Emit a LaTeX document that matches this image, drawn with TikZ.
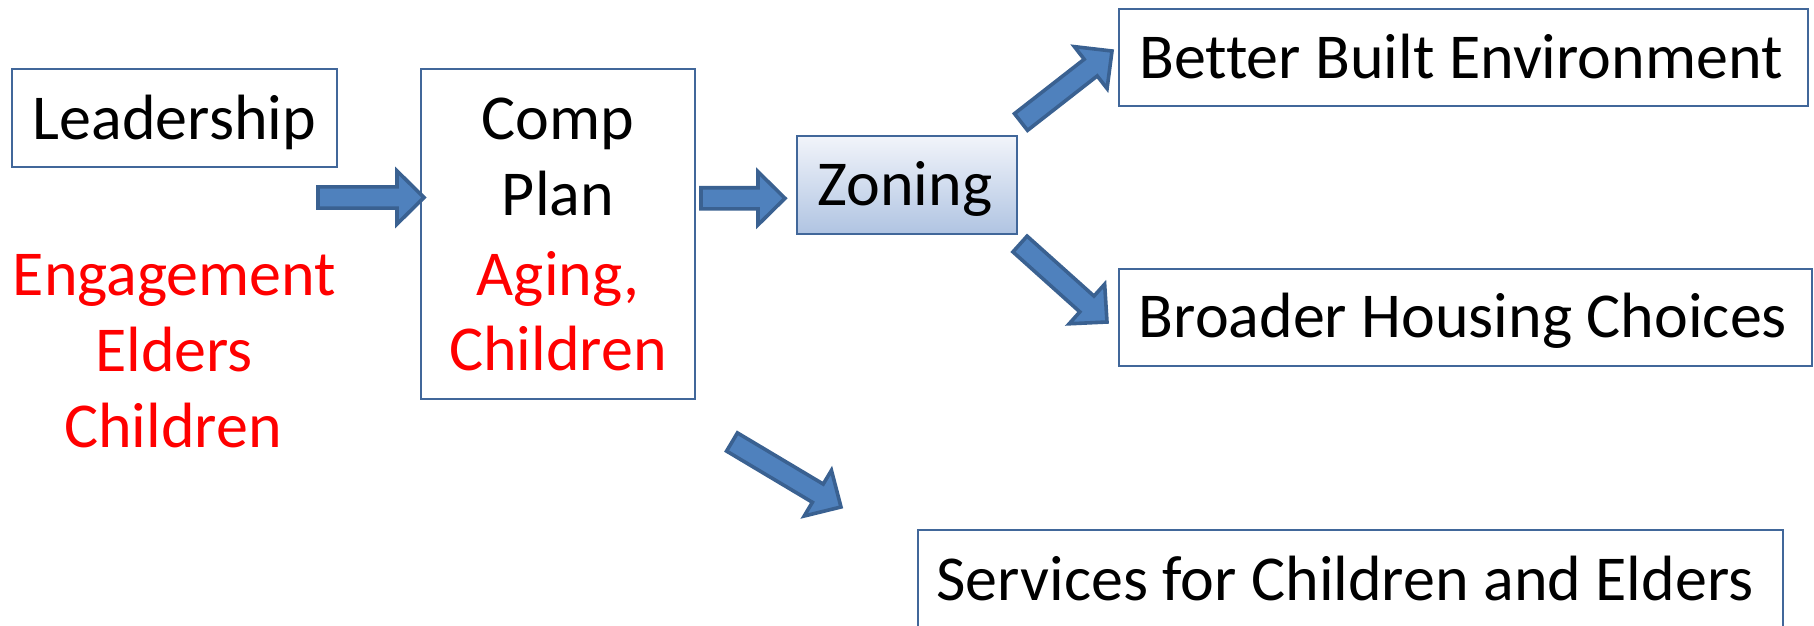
\documentclass[tikz,border=0pt]{standalone}
\usepackage{fontspec}
\setmainfont{Carlito}[Ligatures=NoCommon]
\usetikzlibrary{calc}
\definecolor{boxline}{HTML}{41679A}
\definecolor{arrfill}{HTML}{4F81BD}
\definecolor{arrline}{HTML}{3A6191}
\definecolor{ztop}{HTML}{F1F4FA}
\definecolor{zbot}{HTML}{B0C4E2}
\tikzset{
  box/.style={draw=boxline, line width=1pt, inner sep=0pt},
  txt/.style={anchor=base, inner sep=0pt, font=\fontsize{32}{38}\selectfont},
  redtxt/.style={txt, text=red},
  blockarrow/.style={fill=arrfill, draw=arrline, line width=1.8pt, line join=miter},
}
% #1 name prefix, #2 tail coordinate, #3 tip coordinate
\newcommand{\blockarr}[3]{%
  \coordinate (#1n) at ($(#3)!13.5pt!(#2)$);
  \draw[blockarrow] ($(#2)!5.3pt!90:(#3)$) -- ($(#1n)!5.3pt!-90:(#2)$) -- ($(#1n)!13.3pt!-90:(#2)$) -- (#3)
     -- ($(#1n)!13.3pt!90:(#2)$) -- ($(#1n)!5.3pt!90:(#2)$) -- ($(#2)!5.3pt!-90:(#3)$) -- cycle;
}
\begin{document}
\begin{tikzpicture}[x=0.5pt,y=-0.5pt]
\useasboundingbox (0,0) rectangle (1814,626);
% boxes
\node[box, minimum width=162.5pt, minimum height=48.6pt] (lead) at (174.2,118) {};
\node[box, minimum width=137.1pt, minimum height=164.85pt] (comp) at (558.2,234.3) {};
\node[box, top color=ztop, bottom color=zbot, minimum width=110pt, minimum height=48.8pt] (zon) at (907.3,185.1) {};
\node[box, minimum width=344.75pt, minimum height=48.45pt] (bbe) at (1463.5,57.8) {};
\node[box, minimum width=346.4pt, minimum height=48.8pt] (bhc) at (1465.1,317.6) {};
\node[box, minimum width=432.5pt, minimum height=48.75pt] (serv) at (1350.9,578.7) {};
% texts
\node[txt] (leadt) at (174.5,139.3) {Leadership};
\node[redtxt] (eng) at (174.5,295) {Engagement};
\node[redtxt] (eld) at (174,371.7) {Elders};
\node[redtxt] (chl) at (173,447) {Children};
\node[txt] (compt) at (558,139.3) {Comp};
\node[txt] (plant) at (558,215.7) {Plan};
\node[redtxt] (aging) at (558,295) {Aging,};
\node[redtxt] (chc) at (558,370) {Children};
\node[txt] (zont) at (905,205) {Zoning};
\node[txt] (bbet) at (1461,79) {Better Built Environment};
\node[txt] (bhct) at (1463,337.3) {Broader Housing Choices};
\node[txt] (servt) at (1345,600) {Services for Children and Elders};
% block arrows
\coordinate (a1s) at (318,197.5);
\coordinate (a1e) at (424,197.5);
\coordinate (a2s) at (701,198.3);
\coordinate (a2e) at (785,198.3);
\coordinate (a3s) at (1021,122);
\coordinate (a3e) at (1112,51);
\coordinate (a4s) at (1020,244);
\coordinate (a4e) at (1107,322);
\coordinate (a5s) at (732,442);
\coordinate (a5e) at (841,507);
\blockarr{a1}{a1s}{a1e}
\blockarr{a2}{a2s}{a2e}
\blockarr{a3}{a3s}{a3e}
\blockarr{a4}{a4s}{a4e}
\blockarr{a5}{a5s}{a5e}
\end{tikzpicture}
\end{document}
